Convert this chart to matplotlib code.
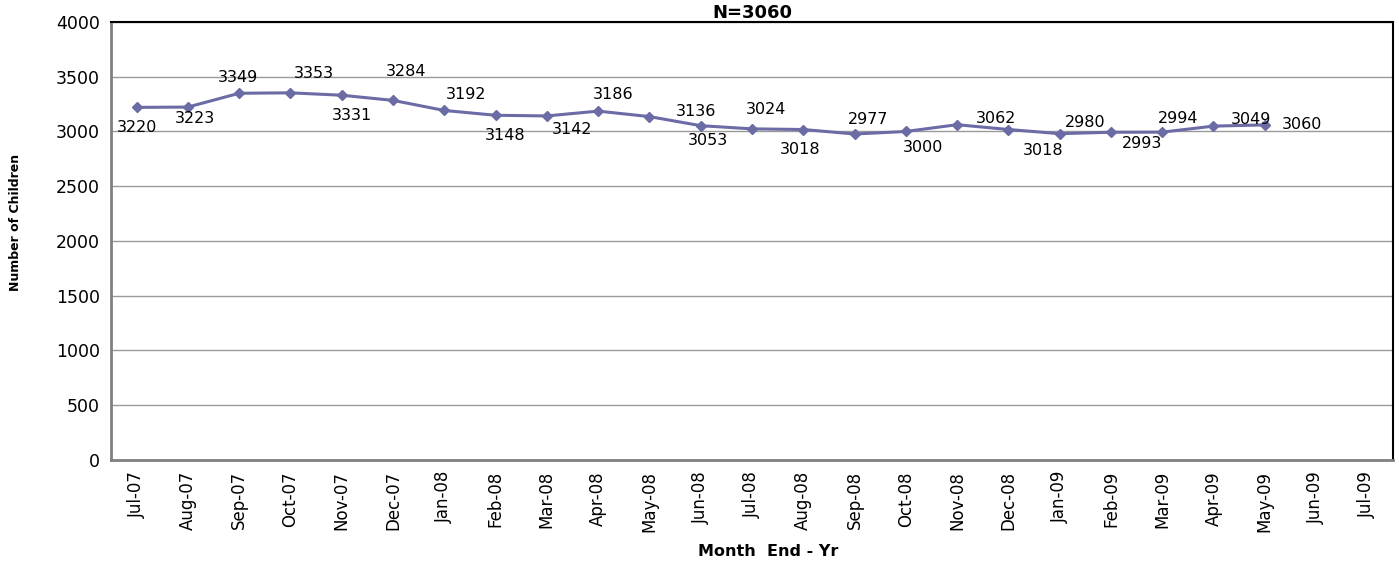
import matplotlib
matplotlib.use("Agg")
import matplotlib.pyplot as plt

months = ["Jul-07", "Aug-07", "Sep-07", "Oct-07", "Nov-07", "Dec-07", "Jan-08", "Feb-08",
          "Mar-08", "Apr-08", "May-08", "Jun-08", "Jul-08", "Aug-08", "Sep-08", "Oct-08",
          "Nov-08", "Dec-08", "Jan-09", "Feb-09", "Mar-09", "Apr-09", "May-09", "Jun-09",
          "Jul-09"]
children = [3220, 3223, 3349, 3353, 3331, 3284, 3192, 3148, 3142, 3186, 3136, 3053,
            3024, 3018, 2977, 3000, 3062, 3018, 2980, 2993, 2994, 3049, 3060]
yticks = [0, 500, 1000, 1500, 2000, 2500, 3000, 3500, 4000]

# label offsets in pixels (dx, dy up), as the labels sit in the original
label_offsets = [(0, -20), (7, -11), (-1, 16), (23, 19), (10, -20), (13, 29), (22, 16),
                 (10, -20), (25, -14), (15, 17), (47, 5), (7, -15), (14, 19), (-3, -20),
                 (14, 14), (17, -16), (39, 6), (35, -21), (26, 11), (31, -11), (16, 14),
                 (38, 7), (37, 0)]

line_color = "#6B6BA5"
narrow = ["Liberation Sans Narrow", "DejaVu Sans"]

fig = plt.figure(figsize=(13.99, 5.62), dpi=100)
ax = fig.add_axes([0.0793, 0.1815, 0.9164, 0.7794])

x = list(range(len(children)))
ax.plot(x, children, color=line_color, lw=2.2, marker="D", ms=5.5,
        markerfacecolor=line_color, markeredgecolor=line_color)

for xi, v, (dx, dy) in zip(x, children, label_offsets):
    ax.annotate(str(v), (xi, v), xytext=(dx, dy), textcoords="offset pixels",
                ha="center", va="center", fontsize=11.5, family="DejaVu Sans")

ax.set_xlim(-0.5, len(months) - 0.5)
ax.set_ylim(0, 4000)
ax.set_xticks(range(len(months)))
ax.set_xticklabels(months, rotation=90, fontsize=12, family=narrow)
ax.set_yticks(yticks)
ax.set_yticklabels([str(t) for t in yticks], fontsize=12.5)
ax.tick_params(axis="both", length=0, pad=8)
ax.grid(axis="y", color="#9a9a9a", lw=1)
ax.set_axisbelow(True)

for side in ["left", "bottom"]:
    ax.spines[side].set_color("#808080")
    ax.spines[side].set_linewidth(2)
for side in ["top", "right"]:
    ax.spines[side].set_color("black")
    ax.spines[side].set_linewidth(1.5)

ax.set_title("N=3060", fontsize=13, fontweight="bold", pad=-3)
ax.set_ylabel("Number of Children", fontsize=9, fontweight="bold", family=narrow)
ax.yaxis.set_label_coords(-0.069, 0.543)
fig.text(0.549, 0.018, "Month  End - Yr", ha="center", va="center",
         fontsize=11.5, fontweight="bold")

fig.savefig("out.png", dpi=100)
